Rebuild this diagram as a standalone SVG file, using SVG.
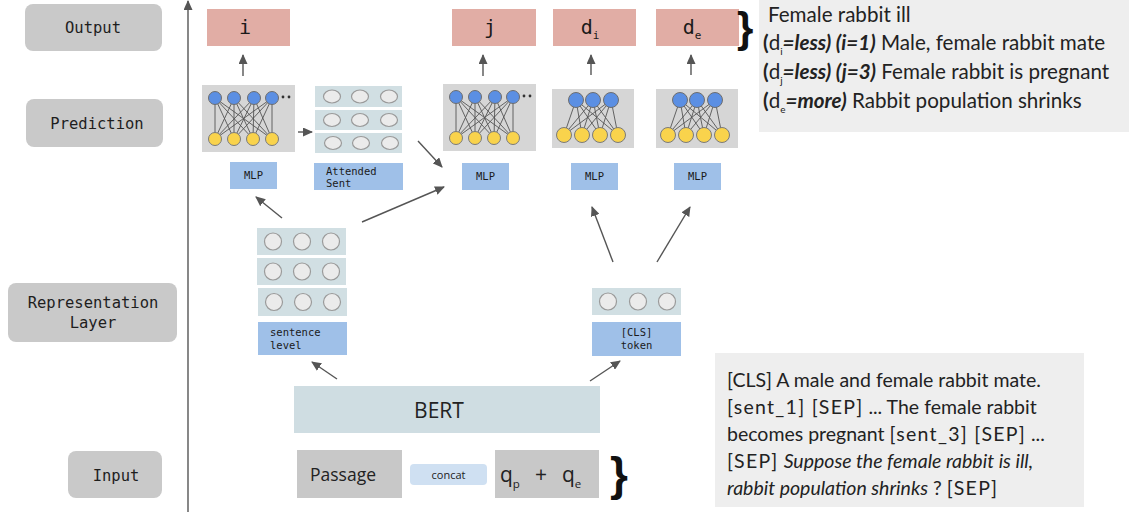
<svg xmlns="http://www.w3.org/2000/svg" xmlns:xlink="http://www.w3.org/1999/xlink" width="1129" height="517" viewBox="0 0 1129 517">
<style>
.lab{fill:#c9c9c9}
.labt{font-family:"DejaVu Sans Mono",monospace;font-size:15.5px;fill:#1e1e1e;text-anchor:middle}
.out{fill:#e1ada5}
.outt{font-family:"DejaVu Sans Mono",monospace;font-size:20px;fill:#1a1a1a;text-anchor:middle}
.netbox{fill:#d6d6d6}
.blue{fill:#5b8fe3;stroke:#6e6e6e;stroke-width:1}
.yel{fill:#f9d34c;stroke:#7a7a7a;stroke-width:1}
.edge{stroke:#555;stroke-width:0.9}
.mlp{fill:#9fc0e8}
.mlpt{font-family:"DejaVu Sans Mono",monospace;font-size:10.5px;fill:#1a1a1a}
.row{fill:#d1dfe3}
.cell{fill:#ebebeb;stroke:#9a9a9a;stroke-width:1.2}
.conn{stroke:#555;stroke-width:1.4;fill:none;marker-end:url(#ah)}
.gbox{fill:#c8c8c8}
.sans{font-family:"Open Sans",sans-serif;fill:#222}
.txtbox{fill:#eeeeee}
.lato{font-family:Lato,sans-serif;font-size:19.5px;fill:#222}
.lato2{font-family:Lato,sans-serif;font-size:20.6px;fill:#222}
.br{letter-spacing:1.3px}
.brace{font-family:"Liberation Sans",sans-serif;fill:#111}
</style>
<defs>
<marker id="ah" markerUnits="userSpaceOnUse" markerWidth="10" markerHeight="9" refX="9" refY="4.5" orient="auto">
<path d="M0,0 L10,4.5 L0,9 z" fill="#555"/>
</marker>
<g id="net4">
<rect class="netbox" x="0" y="0" width="93" height="67"/>
<g class="edge">
<line x1="13" y1="13" x2="13" y2="54"/><line x1="13" y1="13" x2="32" y2="54"/><line x1="13" y1="13" x2="51" y2="54"/><line x1="13" y1="13" x2="70" y2="54"/>
<line x1="32" y1="13" x2="13" y2="54"/><line x1="32" y1="13" x2="32" y2="54"/><line x1="32" y1="13" x2="51" y2="54"/><line x1="32" y1="13" x2="70" y2="54"/>
<line x1="52" y1="13" x2="13" y2="54"/><line x1="52" y1="13" x2="32" y2="54"/><line x1="52" y1="13" x2="51" y2="54"/><line x1="52" y1="13" x2="70" y2="54"/>
<line x1="70" y1="13" x2="13" y2="54"/><line x1="70" y1="13" x2="32" y2="54"/><line x1="70" y1="13" x2="51" y2="54"/><line x1="70" y1="13" x2="70" y2="54"/>
</g>
<circle class="blue" cx="13" cy="13" r="6.5"/><circle class="blue" cx="32" cy="13" r="6.5"/><circle class="blue" cx="52" cy="13" r="6.5"/><circle class="blue" cx="70" cy="13" r="6.5"/>
<circle class="yel" cx="13" cy="54" r="6.5"/><circle class="yel" cx="32" cy="54" r="6.5"/><circle class="yel" cx="51" cy="54" r="6.5"/><circle class="yel" cx="70" cy="54" r="6.5"/>
<circle cx="81" cy="12" r="1.4" fill="#333"/><circle cx="87" cy="12" r="1.4" fill="#333"/>
</g>
<g id="net3">
<rect class="netbox" x="0" y="0" width="82" height="59"/>
<g class="edge">
<line x1="24" y1="11" x2="12" y2="46"/><line x1="24" y1="11" x2="30" y2="46"/><line x1="24" y1="11" x2="48" y2="46"/><line x1="24" y1="11" x2="66" y2="46"/>
<line x1="41" y1="11" x2="12" y2="46"/><line x1="41" y1="11" x2="30" y2="46"/><line x1="41" y1="11" x2="48" y2="46"/><line x1="41" y1="11" x2="66" y2="46"/>
<line x1="59" y1="11" x2="12" y2="46"/><line x1="59" y1="11" x2="30" y2="46"/><line x1="59" y1="11" x2="48" y2="46"/><line x1="59" y1="11" x2="66" y2="46"/>
</g>
<circle class="blue" cx="24" cy="11" r="7.5"/><circle class="blue" cx="41" cy="11" r="7.5"/><circle class="blue" cx="59" cy="11" r="7.5"/>
<circle class="yel" cx="12" cy="46" r="7.5"/><circle class="yel" cx="30" cy="46" r="7.5"/><circle class="yel" cx="48" cy="46" r="7.5"/><circle class="yel" cx="66" cy="46" r="7.5"/>
</g>
</defs>
<rect width="1129" height="517" fill="#ffffff"/>

<g id="label-output"><rect class="lab" x="25" y="4" width="137" height="47" rx="8"/><text class="labt" x="93" y="33">Output</text></g>
<g id="label-prediction"><rect class="lab" x="26" y="99" width="137" height="48" rx="8"/><text class="labt" x="97" y="129">Prediction</text></g>
<g id="label-representation"><rect class="lab" x="8" y="283" width="169" height="59" rx="8"/><text class="labt" x="93" y="308">Representation</text><text class="labt" x="93" y="328">Layer</text></g>
<g id="label-input"><rect class="lab" x="68" y="451" width="94" height="47" rx="8"/><text class="labt" x="116" y="481">Input</text></g>

<g id="out-i"><rect class="out" x="207" y="9" width="83" height="37"/><text class="outt" x="245" y="34">i</text></g>
<g id="out-j"><rect class="out" x="452" y="9" width="84" height="37"/><text class="outt" x="490" y="34">j</text></g>
<g id="out-di"><rect class="out" x="553" y="9" width="83" height="37"/><text class="outt" x="590" y="34">d<tspan font-size="11" dy="5">i</tspan></text></g>
<g id="out-de"><rect class="out" x="656" y="9" width="83" height="37"/><text class="outt" x="692" y="34">d<tspan font-size="11" dy="5">e</tspan></text></g>

<g id="net-i"><use xlink:href="#net4" href="#net4" x="202" y="85"/></g>
<g id="net-j"><use xlink:href="#net4" href="#net4" x="443" y="84"/></g>
<g id="net-di"><use xlink:href="#net3" href="#net3" x="552" y="89"/></g>
<g id="net-de"><use xlink:href="#net3" href="#net3" x="656" y="89"/></g>

<g id="attended-stack">
<rect class="row" x="315" y="86" width="87" height="21"/><rect class="row" x="315" y="110" width="87" height="20"/><rect class="row" x="315" y="133" width="87" height="20"/>
<ellipse class="cell" cx="332" cy="96.5" rx="8.5" ry="6.5"/><ellipse class="cell" cx="360" cy="96.5" rx="8.5" ry="6.5"/><ellipse class="cell" cx="389" cy="96.5" rx="8.5" ry="6.5"/>
<ellipse class="cell" cx="332" cy="120" rx="8.5" ry="6.5"/><ellipse class="cell" cx="360" cy="120" rx="8.5" ry="6.5"/><ellipse class="cell" cx="389" cy="120" rx="8.5" ry="6.5"/>
<ellipse class="cell" cx="333" cy="143" rx="8.5" ry="6.5"/><ellipse class="cell" cx="361" cy="143" rx="8.5" ry="6.5"/><ellipse class="cell" cx="390" cy="143" rx="8.5" ry="6.5"/>
</g>

<g id="mlp-i"><rect class="mlp" x="230" y="162" width="47" height="27"/><text class="mlpt" x="253.5" y="179" text-anchor="middle">MLP</text></g>
<g id="attended-sent"><rect class="mlp" x="314" y="163" width="89" height="27"/><text class="mlpt" x="326" y="175">Attended</text><text class="mlpt" x="326" y="187">Sent</text></g>
<g id="mlp-j"><rect class="mlp" x="462" y="163" width="47" height="27"/><text class="mlpt" x="485.5" y="180" text-anchor="middle">MLP</text></g>
<g id="mlp-di"><rect class="mlp" x="571" y="163" width="47" height="27"/><text class="mlpt" x="594.5" y="180" text-anchor="middle">MLP</text></g>
<g id="mlp-de"><rect class="mlp" x="674" y="163" width="47" height="27"/><text class="mlpt" x="697.5" y="180" text-anchor="middle">MLP</text></g>

<g id="sentence-stack">
<rect class="row" x="257" y="228" width="89" height="27"/><rect class="row" x="257" y="258" width="89" height="27"/><rect class="row" x="258" y="288" width="89" height="28"/>
<circle class="cell" cx="273" cy="241.5" r="8.5"/><circle class="cell" cx="302" cy="241.5" r="8.5"/><circle class="cell" cx="331" cy="241.5" r="8.5"/>
<circle class="cell" cx="273" cy="271.5" r="8.5"/><circle class="cell" cx="302" cy="271.5" r="8.5"/><circle class="cell" cx="331" cy="271.5" r="8.5"/>
<circle class="cell" cx="274" cy="302" r="8.5"/><circle class="cell" cx="303" cy="302" r="8.5"/><circle class="cell" cx="332" cy="302" r="8.5"/>
</g>
<g id="sentence-level"><rect class="mlp" x="258" y="322" width="89" height="33"/><text class="mlpt" x="270" y="336">sentence</text><text class="mlpt" x="270" y="349">level</text></g>

<g id="cls-stack">
<rect class="row" x="592" y="288" width="89" height="27"/>
<circle class="cell" cx="608" cy="301.5" r="8.5"/><circle class="cell" cx="638" cy="301.5" r="8.5"/><circle class="cell" cx="667" cy="301.5" r="8.5"/>
</g>
<g id="cls-token"><rect class="mlp" x="592" y="322" width="89" height="34"/><text class="mlpt" x="636.5" y="336" text-anchor="middle">[CLS]</text><text class="mlpt" x="636.5" y="349" text-anchor="middle">token</text></g>

<g id="bert"><rect x="294" y="386" width="306" height="47" fill="#cfdde2"/><text class="sans" x="439" y="418" font-size="21" text-anchor="middle">BERT</text></g>

<g id="passage"><rect class="gbox" x="297" y="450" width="105" height="48"/><text class="sans" x="310" y="481" font-size="17.5">Passage</text></g>
<g id="concat"><rect x="410" y="464" width="77" height="21" rx="4" fill="#cfe0f2"/><text class="sans" x="448.5" y="479" font-size="11" text-anchor="middle">concat</text></g>
<g id="query"><rect class="gbox" x="495" y="450" width="104" height="48"/>
<text class="sans" x="500" y="482" font-size="21">q<tspan font-size="11.5" dy="6">p</tspan></text>
<text class="sans" x="535" y="482" font-size="21">+</text>
<text class="sans" x="562" y="482" font-size="21">q<tspan font-size="11.5" dy="6">e</tspan></text>
</g>
<g id="brace-input"><text class="brace" x="610" y="490" font-size="46" font-weight="bold">}</text></g>

<g id="result-text">
<rect class="txtbox" x="759" y="0" width="370" height="132"/>
<text class="brace" x="737" y="42" font-size="42" font-weight="bold">}</text>
<text class="lato2" x="768" y="22">Female rabbit ill</text>
<text class="lato2" x="763" y="50"><tspan font-weight="bold">(</tspan>d<tspan font-size="10" dy="5">i</tspan><tspan dy="-5" font-weight="bold" font-style="italic">=less) (i=1)</tspan> Male, female rabbit mate</text>
<text class="lato2" x="763" y="79"><tspan font-weight="bold">(</tspan>d<tspan font-size="10" dy="5">j</tspan><tspan dy="-5" font-weight="bold" font-style="italic">=less) (j=3)</tspan> Female rabbit is pregnant</text>
<text class="lato2" x="763" y="108"><tspan font-weight="bold">(</tspan>d<tspan font-size="10" dy="5">e</tspan><tspan dy="-5" font-weight="bold" font-style="italic">=more)</tspan> Rabbit population shrinks</text>
</g>

<g id="input-text">
<rect class="txtbox" x="715" y="353" width="369" height="154"/>
<text class="lato" x="727" y="387">[CLS] A male and female rabbit mate.</text>
<text class="lato" x="727" y="414"><tspan class="br">[sent_1] [SEP]</tspan> ... The female rabbit</text>
<text class="lato" x="727" y="441">becomes pregnant <tspan class="br">[sent_3]  [SEP]</tspan>  ...</text>
<text class="lato" x="727" y="468"><tspan class="br">[SEP]</tspan>  <tspan font-style="italic">Suppose the female rabbit is ill,</tspan></text>
<text class="lato" x="727" y="495"><tspan font-style="italic">rabbit population shrinks</tspan> ?  <tspan class="br">[SEP]</tspan></text>
</g>

<g id="connectors">
<line class="conn" x1="188" y1="512" x2="188" y2="1"/>
<line class="conn" x1="243" y1="76" x2="243" y2="55"/>
<line class="conn" x1="483" y1="76" x2="483" y2="55"/>
<line class="conn" x1="591" y1="75" x2="591" y2="55"/>
<line class="conn" x1="691" y1="75" x2="691" y2="55"/>
<line class="conn" x1="298" y1="132" x2="312" y2="132"/>
<line class="conn" x1="418" y1="141" x2="442" y2="167"/>
<line class="conn" x1="362" y1="222" x2="444" y2="187"/>
<line class="conn" x1="282" y1="218" x2="256" y2="197"/>
<line class="conn" x1="613" y1="262" x2="592" y2="207"/>
<line class="conn" x1="657" y1="262" x2="690" y2="207"/>
<line class="conn" x1="337" y1="379" x2="312" y2="362"/>
<line class="conn" x1="590" y1="381" x2="620" y2="361"/>
</g>
</svg>
